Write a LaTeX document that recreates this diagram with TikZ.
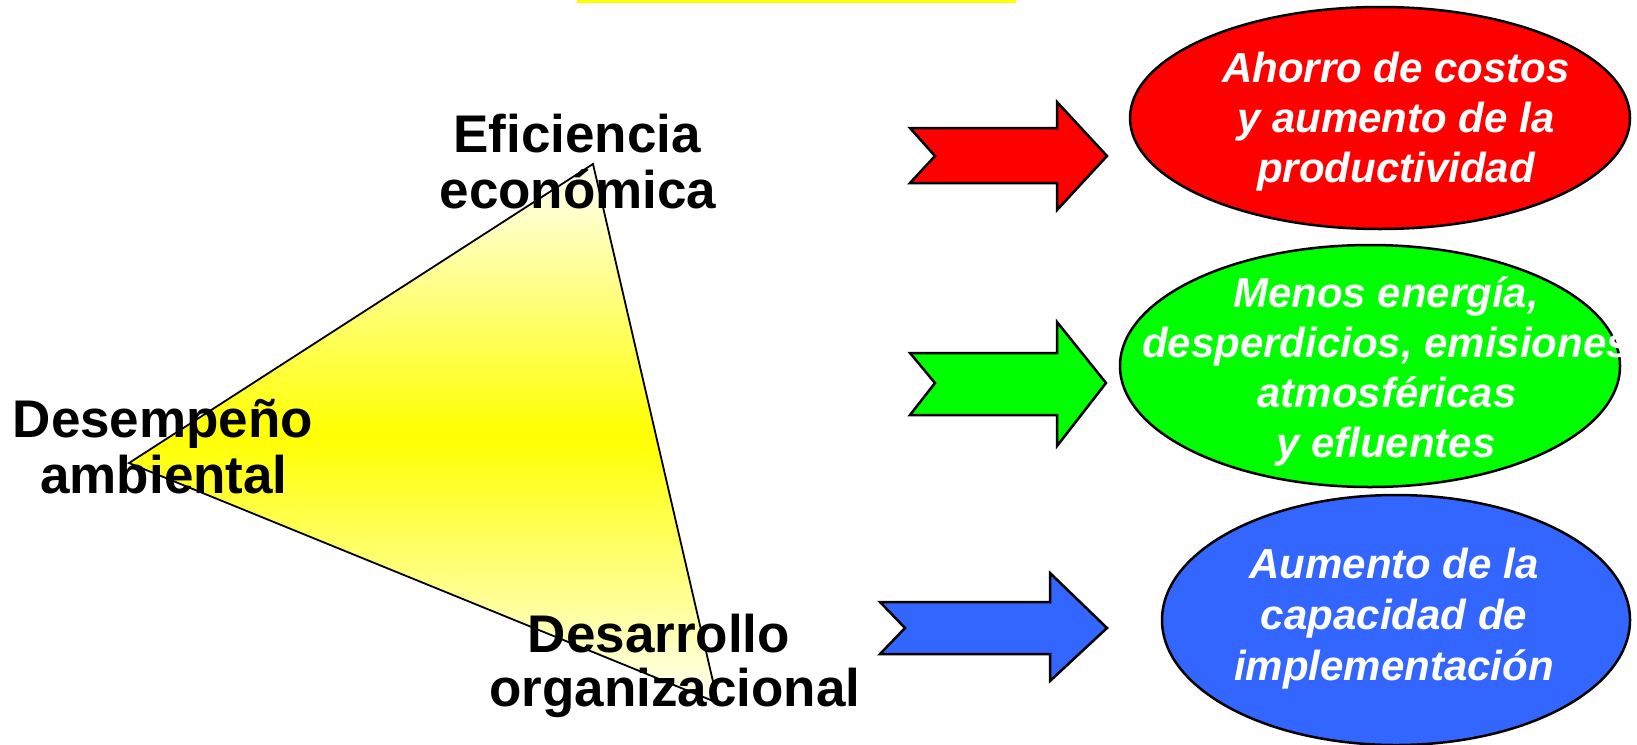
\documentclass[tikz,border=0pt]{standalone}
\usepackage{fontspec}
\setmainfont{Liberation Sans}
\usetikzlibrary{shapes.geometric}
\definecolor{cred}{HTML}{FF0000}
\definecolor{cgreen}{HTML}{00FF00}
\definecolor{cblue}{HTML}{3366FF}
\definecolor{cyellow}{HTML}{FFFF00}
\definecolor{cpale}{HTML}{FFFFF4}
\begin{document}
\begin{tikzpicture}[x=1pt,y=-1pt,
  lbl/.style={anchor=base, inner sep=0pt, font=\fontsize{53}{56}\selectfont\bfseries},
  elltxt/.style={anchor=base, inner sep=0pt, text=white, font=\fontsize{42}{50}\selectfont\bfseries\itshape},
  oval/.style={ellipse, draw=black, line width=2.5pt, inner sep=0pt},
  barrow/.style={draw=black, line width=2.5pt, line join=miter}]
\useasboundingbox (0,0) rectangle (1637,744);
\fill[cyellow] (577,0) rectangle (1016,3);

% triangle
\coordinate (A) at (593,164);
\coordinate (L) at (129,463);
\coordinate (B) at (718,703);
\begin{scope}
  \clip (A) -- (L) -- (B) -- cycle;
  \foreach \i in {0,...,108} {
    \pgfmathsetmacro\ya{164+5*\i}
    \pgfmathsetmacro\yb{\ya+5.6}
    \pgfmathsetmacro\p{max(0,100*(1-abs(\ya+2.5-436)/268))}
    \fill[cyellow!\p!cpale] (100,\ya) rectangle (760,\yb);
  }
\end{scope}
\draw[black, line width=1.8pt, line join=miter] (A) -- (L) -- (B) -- cycle;

% labels
\node[lbl] (efi1) at (577,152) {Eficiencia};
\node[lbl] (efi2) at (578,208) {económica};
\node[lbl] (des1) at (163,437) {Desempeño};
\node[lbl] (des2) at (164,493) {ambiental};
\node[lbl] (org1) at (659,652) {Desarrollo};
\node[lbl] (org2) at (675,706) {organizacional};

% ellipses
\node[oval, fill=cred, minimum width=500pt, minimum height=222pt] (e1) at (1380,118) {};
\node[oval, fill=cgreen, minimum width=500pt, minimum height=242pt] (e2) at (1370,366) {};
\node[oval, fill=cblue, minimum width=468pt, minimum height=250pt] (e3) at (1396,620) {};

\node[elltxt] (t11) at (1396,82) {Ahorro de costos};
\node[elltxt] (t12) at (1396,132) {y aumento de la};
\node[elltxt] (t13) at (1396,182) {productividad};

\node[elltxt] (t21) at (1386,307) {Menos energía,};
\node[elltxt] (t22) at (1386,357) {desperdicios, emisiones};
\node[elltxt] (t23) at (1387,407) {atmosféricas};
\node[elltxt] (t24) at (1386,457) {y efluentes};

\node[elltxt] (t31) at (1394,578) {Aumento de la};
\node[elltxt] (t32) at (1394,629) {capacidad de};
\node[elltxt] (t33) at (1394,680) {implementación};

% block arrows
\draw[barrow, fill=cred] (910,128) -- (1057,128) -- (1057,102) -- (1107,156) -- (1057,210) -- (1057,183) -- (910,183) -- (935,156) -- cycle;
\draw[barrow, fill=cgreen] (910,353) -- (1057,353) -- (1057,322) -- (1106,383) -- (1057,446) -- (1057,415) -- (910,415) -- (935,383) -- cycle;
\draw[barrow, fill=cblue] (880,602) -- (1050,602) -- (1050,573) -- (1107,628) -- (1050,681) -- (1050,654) -- (880,654) -- (905,628) -- cycle;
\end{tikzpicture}
\end{document}
